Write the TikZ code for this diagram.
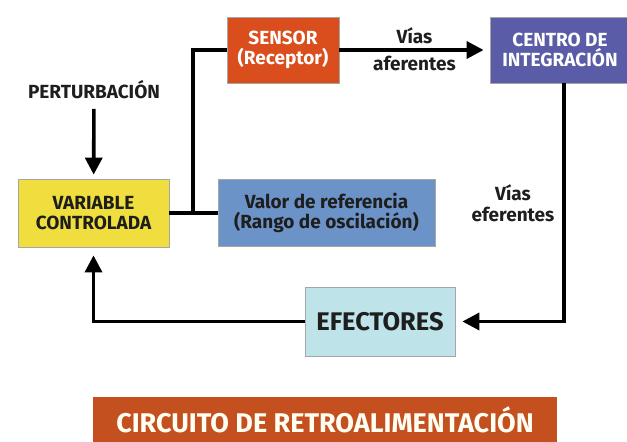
\documentclass[tikz,border=0pt]{standalone}
\usepackage{fontspec}
\setmainfont{Fira Sans}
\usetikzlibrary{arrows.meta}
\definecolor{amarillo}{HTML}{F0DE3E}
\definecolor{azulref}{HTML}{6C93C8}
\definecolor{rojosen}{HTML}{DA4D1D}
\definecolor{violeta}{HTML}{5A5CA8}
\definecolor{celeste}{HTML}{BEE3E8}
\definecolor{teja}{HTML}{C44F1F}
\definecolor{texto}{HTML}{1E1E1E}

\begin{document}
\begin{tikzpicture}[x=1pt,y=-1pt,
    caja/.style={draw=gray!70,line width=0.8pt,rectangle,align=center,font=\bfseries\fontsize{19}{20}\selectfont},
    etiq/.style={font=\bfseries\fontsize{19}{21}\selectfont,text=texto},
    linea/.style={line width=3.6pt,black},
    flecha/.style={linea,-{Triangle[length=17pt,width=17pt]}}]
    \useasboundingbox (0,0) rectangle (627,442);
        \node[caja,fill=amarillo,text=texto,minimum width=151pt,minimum height=68pt] at (93.5,213) (var) {VARIABLE\\CONTROLADA};
        \node[caja,fill=azulref,text=texto,minimum width=217pt,minimum height=67pt] at (326.5,213) (valor) {Valor de referencia\\(Rango de oscilación)};
        \node[caja,fill=rojosen,text=white,minimum width=112pt,minimum height=66pt] at (283,50) (sensor) {SENSOR\\(Receptor)};
        \node[caja,fill=violeta,text=white,minimum width=140pt,minimum height=66pt,inner xsep=0pt] at (560,50) (centro) {CENTRO DE\\INTEGRACIÓN};
        \node[caja,fill=celeste,text=texto,minimum width=150pt,minimum height=69pt,font=\bfseries\fontsize{25.5}{27}\selectfont] at (380,321.5) (efect) {EFECTORES};
        \node[caja,draw=none,fill=teja,text=white!95!yellow,minimum width=464pt,minimum height=54pt,anchor=north,font=\bfseries\fontsize{27}{29}\selectfont,text depth=9pt] at (325,397) (titulo) {CIRCUITO DE RETROALIMENTACIÓN};
        \node[etiq] at (94,90) (pert) {PERTURBACIÓN};
        \coordinate (jn) at (193,213);
        \draw[flecha,shorten <=6pt,shorten >=4pt] (pert) -- (var);
        \draw[linea] (var) -- (valor);
        \draw[linea] (jn) |- (sensor);
        \draw[flecha,shorten >=6pt] (sensor) -- (centro)
            node[etiq,midway,above=1pt] (viasa) {Vías}
            node[etiq,midway,below=1pt] (afer) {aferentes};
        \draw[flecha,shorten >=7pt] ([xshift=4pt]centro.south) |- (efect.east);
        \draw[flecha,shorten >=8pt] (efect.west) -| (var.south);
        \node[etiq,align=center] at (513,203) (efer) {Vías\\eferentes};
    \end{tikzpicture}
\end{document}
